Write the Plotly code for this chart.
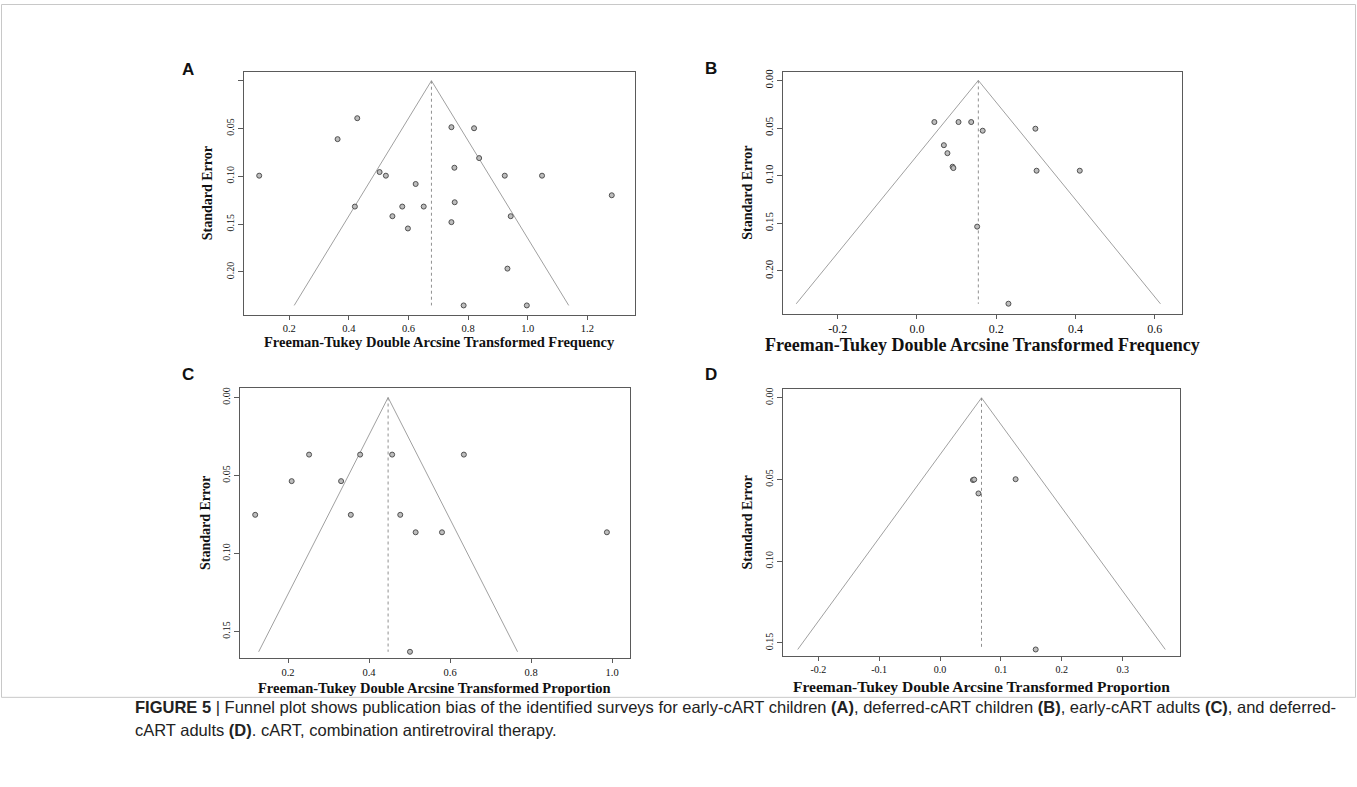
import plotly.graph_objects as go

W, H = 1357, 787

# ---------------- data ----------------
A_x = [0.099, 0.362, 0.428, 0.503, 0.524, 0.624, 0.420, 0.579, 0.546, 0.598, 0.651, 0.744,
       0.820, 0.837, 0.754, 0.923, 1.048, 1.282, 0.755, 0.943, 0.744, 0.932, 0.785, 0.997]
A_se = [0.0993, 0.0611, 0.0392, 0.0955, 0.0993, 0.108, 0.1316, 0.1316, 0.1417, 0.1545, 0.1316, 0.0486,
        0.0497, 0.0809, 0.0910, 0.0993, 0.0993, 0.1198, 0.1271, 0.1417, 0.1479, 0.1965, 0.235, 0.235]
A_center, A_maxse = 0.677, 0.235

B_x = [0.044, 0.105, 0.137, 0.068, 0.077, 0.090, 0.092, 0.152, 0.166, 0.299, 0.302, 0.411, 0.231]
B_se = [0.0437, 0.0437, 0.0437, 0.068, 0.0764, 0.0906, 0.092, 0.1535, 0.0528, 0.0507, 0.0948, 0.0948, 0.2344]
B_center, B_maxse = 0.155, 0.2345

C_x = [0.119, 0.209, 0.252, 0.331, 0.378, 0.355, 0.457, 0.477, 0.515, 0.634, 0.580, 0.987, 0.501]
C_se = [0.0752, 0.0536, 0.0366, 0.0536, 0.0366, 0.0752, 0.0366, 0.0752, 0.0864, 0.0366, 0.0864, 0.0864, 0.163]
C_center, C_maxse = 0.447, 0.163

D_x = [0.054, 0.056, 0.063, 0.124, 0.157]
D_se = [0.0503, 0.0500, 0.0585, 0.0498, 0.154]
D_center, D_maxse = 0.068, 0.154

A_xticks = [0.2, 0.4, 0.6, 0.8, 1.0, 1.2]
B_xticks = [-0.2, 0.0, 0.2, 0.4, 0.6]
C_xticks = [0.2, 0.4, 0.6, 0.8, 1.0]
D_xticks = [-0.2, -0.1, 0.0, 0.1, 0.2, 0.3]
AB_yticks = [0.00, 0.05, 0.10, 0.15, 0.20]
CD_yticks = [0.00, 0.05, 0.10, 0.15]

x_title_freq = "Freeman-Tukey Double Arcsine Transformed Frequency"
x_title_prop = "Freeman-Tukey Double Arcsine Transformed Proportion"
y_title = "Standard Error"

# ---------------- layout geometry ----------------
def fx(px):
    return px / W

def fy(py):
    return 1 - py / H

panels = [
    dict(key="A", box=(244, 69, 635, 313), xr=[0.048, 1.360], yr=[-0.0094, 0.2448],
         x=A_x, se=A_se, c=A_center, s=A_maxse, xt=A_xticks, yt=AB_yticks, hide0=True,
         xtitle=x_title_freq, xts=14.5, ytx=207, xty=340, lab=(188, 67), tfs=10, xtfs=10.5),
    dict(key="B", box=(783, 69, 1182, 312), xr=[-0.338, 0.669], yr=[-0.0091, 0.245],
         x=B_x, se=B_se, c=B_center, s=B_maxse, xt=B_xticks, yt=AB_yticks, hide0=False,
         xtitle=x_title_freq, xts=18, ytx=748, xty=343, lab=(711, 66), tfs=11, xtfs=12),
    dict(key="C", box=(240, 386, 630, 658), xr=[0.0815, 1.044], yr=[-0.0064, 0.1673],
         x=C_x, se=C_se, c=C_center, s=C_maxse, xt=C_xticks, yt=CD_yticks, hide0=False,
         xtitle=x_title_prop, xts=14.5, ytx=205, xty=688, lab=(188, 373), tfs=10, xtfs=10.5),
    dict(key="D", box=(783, 387, 1180, 656), xr=[-0.258, 0.394], yr=[-0.0057, 0.1583],
         x=D_x, se=D_se, c=D_center, s=D_maxse, xt=D_xticks, yt=CD_yticks, hide0=False,
         xtitle=x_title_prop, xts=15.5, ytx=748, xty=686, lab=(711, 373), tfs=10, xtfs=10),
]

fig = go.Figure()
layout = dict(width=W, height=H, autosize=False, margin=dict(l=0, r=0, t=0, b=0),
              paper_bgcolor="white", plot_bgcolor="white", showlegend=False)
annotations = []
shapes = []

SERIF = "Liberation Serif, Times New Roman, serif"
SANS = "Liberation Sans, Arial, sans-serif"

for i, p in enumerate(panels):
    n = "" if i == 0 else str(i + 1)
    xa, ya = "x" + n, "y" + n
    l, t, r, b = p["box"]
    z = 1.959964
    fig.add_trace(go.Scatter(
        x=[p["c"] - z * p["s"], p["c"], p["c"] + z * p["s"]], y=[p["s"], 0, p["s"]],
        mode="lines", line=dict(color="#a0a0a0", width=1), xaxis=xa, yaxis=ya, hoverinfo="skip"))
    fig.add_trace(go.Scatter(
        x=[p["c"], p["c"]], y=[0, p["s"]], mode="lines",
        line=dict(color="#909090", width=1, dash="dot"), xaxis=xa, yaxis=ya, hoverinfo="skip"))
    fig.add_trace(go.Scatter(
        x=p["x"], y=p["se"], mode="markers",
        marker=dict(symbol="circle", size=5, color="#bdbdbd", line=dict(color="#505050", width=1)),
        xaxis=xa, yaxis=ya))
    ax = dict(domain=[fx(l), fx(r)], range=p["xr"], anchor=ya, showgrid=False, zeroline=False,
              showline=True, mirror=True, linecolor="#5a5a5a", linewidth=1,
              ticks="outside", ticklen=4, tickcolor="#5a5a5a",
              tickvals=p["xt"], ticktext=[f"{v:.1f}" for v in p["xt"]],
              tickfont=dict(family=SERIF, size=p["xtfs"], color="#111"))
    ay = dict(domain=[fy(b), fy(t)], range=[p["yr"][1], p["yr"][0]], anchor=xa, showgrid=False,
              zeroline=False, showline=True, mirror=True, linecolor="#5a5a5a", linewidth=1,
              ticks="outside", ticklen=5, tickcolor="#5a5a5a", tickangle=-90,
              tickvals=p["yt"],
              ticktext=[("" if (p["hide0"] and v == 0) else f"{v:.2f}") for v in p["yt"]],
              tickfont=dict(family=SERIF, size=p["tfs"], color="#111"))
    layout["xaxis" + n] = ax
    layout["yaxis" + n] = ay
    annotations.append(dict(text="<b>" + p["xtitle"] + "</b>", x=fx((l + r) / 2), y=fy(p["xty"]),
                            xref="paper", yref="paper", showarrow=False, xanchor="center",
                            yanchor="middle", font=dict(family=SERIF, size=p["xts"], color="#111")))
    annotations.append(dict(text="<b>" + y_title + "</b>", x=fx(p["ytx"]), y=fy((t + b) / 2),
                            xref="paper", yref="paper", showarrow=False, textangle=-90,
                            xanchor="center", yanchor="middle",
                            font=dict(family=SERIF, size=14, color="#111")))
    annotations.append(dict(text="<b>" + p["key"] + "</b>", x=fx(p["lab"][0]), y=fy(p["lab"][1]),
                            xref="paper", yref="paper", showarrow=False, xanchor="center",
                            yanchor="middle", font=dict(family=SANS, size=17, color="#111")))

# outer frame
shapes.append(dict(type="rect", xref="paper", yref="paper", x0=fx(1.5), x1=fx(1355.5),
                   y0=fy(697), y1=fy(1.5), line=dict(color="#c8c8c8", width=1)))

cap1 = ("<b>FIGURE 5</b> | Funnel plot shows publication bias of the identified surveys for early-cART children "
        "<b>(A)</b>, deferred-cART children <b>(B)</b>, early-cART adults <b>(C)</b>, and deferred-")
cap2 = "cART adults <b>(D)</b>. cART, combination antiretroviral therapy."
annotations.append(dict(text=cap1, x=fx(133), y=fy(707), xref="paper", yref="paper", showarrow=False,
                        xanchor="left", yanchor="middle", font=dict(family=SANS, size=16.5, color="#222")))
annotations.append(dict(text=cap2, x=fx(133), y=fy(730), xref="paper", yref="paper", showarrow=False,
                        xanchor="left", yanchor="middle", font=dict(family=SANS, size=16.5, color="#222")))

layout["annotations"] = annotations
layout["shapes"] = shapes
fig.update_layout(**layout)
fig.write_html("out.html", config={"displayModeBar": False},
               post_script="document.body.style.margin='0px';document.body.style.overflow='hidden';")
